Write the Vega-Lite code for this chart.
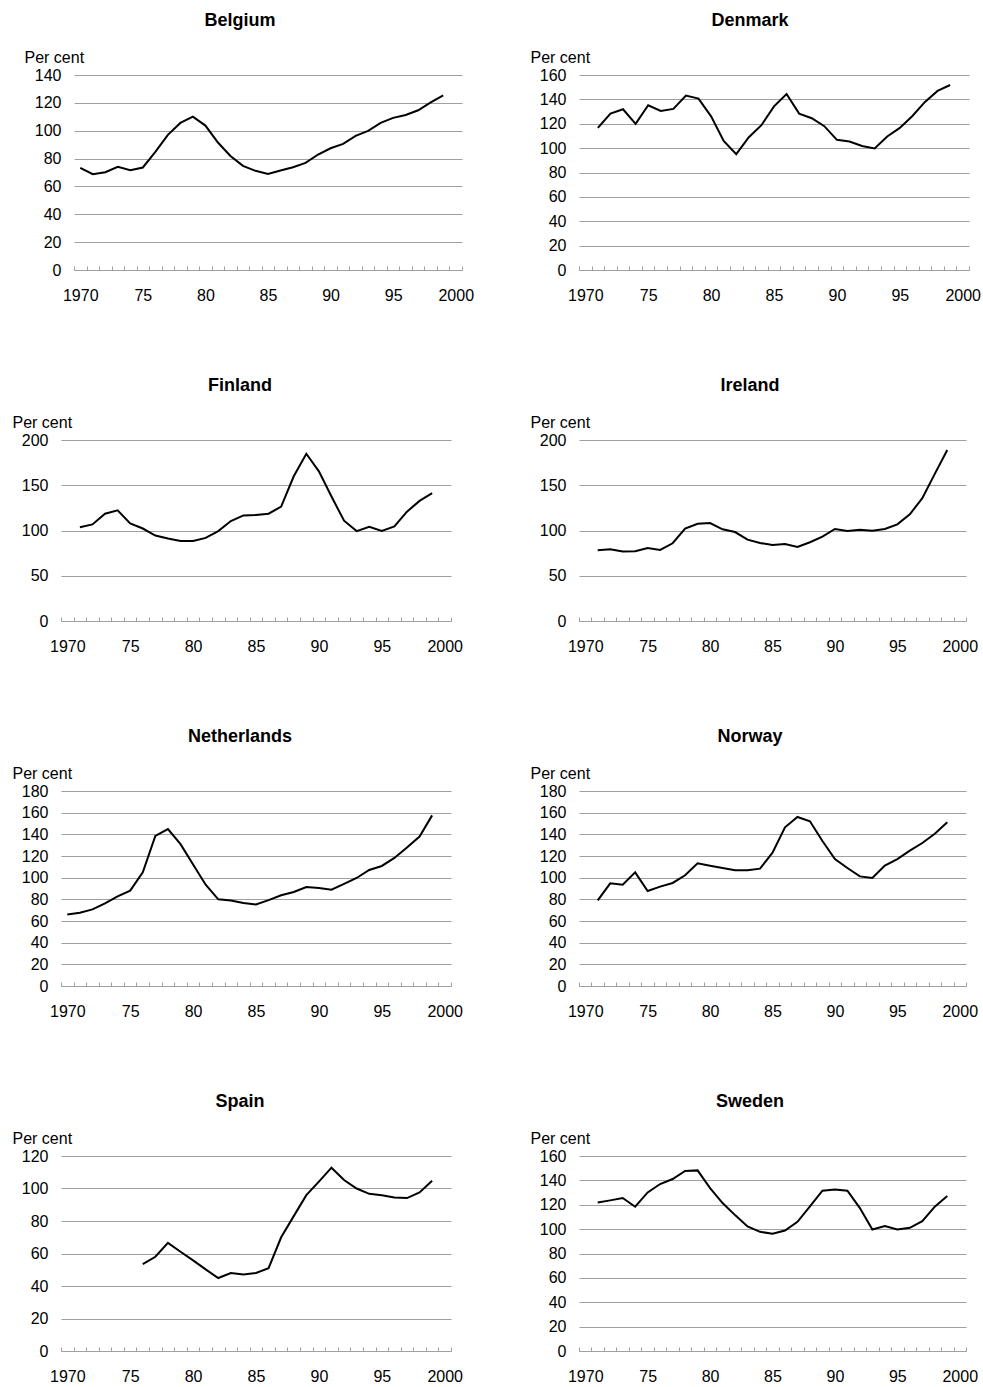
{
  "$schema": "https://vega.github.io/schema/vega-lite/v6.json",
  "padding": {"left": 12, "top": 12, "right": 0, "bottom": 0},
  "background": "white",
  "datasets": {
    "d": [
      {"country":"Belgium","year":1970,"value":73.3},{"country":"Belgium","year":1971,"value":68.8},{"country":"Belgium","year":1972,"value":70.2},{"country":"Belgium","year":1973,"value":74.1},{"country":"Belgium","year":1974,"value":71.7},{"country":"Belgium","year":1975,"value":73.6},{"country":"Belgium","year":1976,"value":84.8},{"country":"Belgium","year":1977,"value":97},{"country":"Belgium","year":1978,"value":105.6},{"country":"Belgium","year":1979,"value":110.1},{"country":"Belgium","year":1980,"value":103.7},{"country":"Belgium","year":1981,"value":91.5},{"country":"Belgium","year":1982,"value":81.9},{"country":"Belgium","year":1983,"value":74.8},{"country":"Belgium","year":1984,"value":71.2},{"country":"Belgium","year":1985,"value":69},{"country":"Belgium","year":1986,"value":71.4},{"country":"Belgium","year":1987,"value":73.8},{"country":"Belgium","year":1988,"value":76.9},{"country":"Belgium","year":1989,"value":82.9},{"country":"Belgium","year":1990,"value":87.4},{"country":"Belgium","year":1991,"value":90.5},{"country":"Belgium","year":1992,"value":96.3},{"country":"Belgium","year":1993,"value":99.9},{"country":"Belgium","year":1994,"value":105.6},{"country":"Belgium","year":1995,"value":109.2},{"country":"Belgium","year":1996,"value":111.3},{"country":"Belgium","year":1997,"value":114.7},{"country":"Belgium","year":1998,"value":120.4},{"country":"Belgium","year":1999,"value":125.4},
      {"country":"Denmark","year":1971,"value":116.6},{"country":"Denmark","year":1972,"value":128.3},{"country":"Denmark","year":1973,"value":131.9},{"country":"Denmark","year":1974,"value":119.9},{"country":"Denmark","year":1975,"value":135.2},{"country":"Denmark","year":1976,"value":130.5},{"country":"Denmark","year":1977,"value":132.2},{"country":"Denmark","year":1978,"value":143.1},{"country":"Denmark","year":1979,"value":140.6},{"country":"Denmark","year":1980,"value":126.1},{"country":"Denmark","year":1981,"value":105.9},{"country":"Denmark","year":1982,"value":95},{"country":"Denmark","year":1983,"value":108.9},{"country":"Denmark","year":1984,"value":118.8},{"country":"Denmark","year":1985,"value":134.3},{"country":"Denmark","year":1986,"value":144.4},{"country":"Denmark","year":1987,"value":128.3},{"country":"Denmark","year":1988,"value":124.5},{"country":"Denmark","year":1989,"value":118},{"country":"Denmark","year":1990,"value":106.8},{"country":"Denmark","year":1991,"value":105.4},{"country":"Denmark","year":1992,"value":101.8},{"country":"Denmark","year":1993,"value":99.7},{"country":"Denmark","year":1994,"value":109.5},{"country":"Denmark","year":1995,"value":116.6},{"country":"Denmark","year":1996,"value":126.4},{"country":"Denmark","year":1997,"value":137.9},{"country":"Denmark","year":1998,"value":146.9},{"country":"Denmark","year":1999,"value":151.8},
      {"country":"Finland","year":1971,"value":103.7},{"country":"Finland","year":1972,"value":106.7},{"country":"Finland","year":1973,"value":118.6},{"country":"Finland","year":1974,"value":122.3},{"country":"Finland","year":1975,"value":107.8},{"country":"Finland","year":1976,"value":102.2},{"country":"Finland","year":1977,"value":94.4},{"country":"Finland","year":1978,"value":91.1},{"country":"Finland","year":1979,"value":88.5},{"country":"Finland","year":1980,"value":88.5},{"country":"Finland","year":1981,"value":91.8},{"country":"Finland","year":1982,"value":99.3},{"country":"Finland","year":1983,"value":110.4},{"country":"Finland","year":1984,"value":116.7},{"country":"Finland","year":1985,"value":117.1},{"country":"Finland","year":1986,"value":118.6},{"country":"Finland","year":1987,"value":126.4},{"country":"Finland","year":1988,"value":159.9},{"country":"Finland","year":1989,"value":184.8},{"country":"Finland","year":1990,"value":165.4},{"country":"Finland","year":1991,"value":137.5},{"country":"Finland","year":1992,"value":110.8},{"country":"Finland","year":1993,"value":99.3},{"country":"Finland","year":1994,"value":104.1},{"country":"Finland","year":1995,"value":99.6},{"country":"Finland","year":1996,"value":104.5},{"country":"Finland","year":1997,"value":120.8},{"country":"Finland","year":1998,"value":132.7},{"country":"Finland","year":1999,"value":141.3},
      {"country":"Ireland","year":1971,"value":78.2},{"country":"Ireland","year":1972,"value":79.3},{"country":"Ireland","year":1973,"value":76.7},{"country":"Ireland","year":1974,"value":77.1},{"country":"Ireland","year":1975,"value":80.7},{"country":"Ireland","year":1976,"value":78.5},{"country":"Ireland","year":1977,"value":85.9},{"country":"Ireland","year":1978,"value":102},{"country":"Ireland","year":1979,"value":107.5},{"country":"Ireland","year":1980,"value":108.3},{"country":"Ireland","year":1981,"value":101.3},{"country":"Ireland","year":1982,"value":98.3},{"country":"Ireland","year":1983,"value":89.9},{"country":"Ireland","year":1984,"value":86.2},{"country":"Ireland","year":1985,"value":84},{"country":"Ireland","year":1986,"value":85.1},{"country":"Ireland","year":1987,"value":81.8},{"country":"Ireland","year":1988,"value":87},{"country":"Ireland","year":1989,"value":93.2},{"country":"Ireland","year":1990,"value":101.7},{"country":"Ireland","year":1991,"value":99.4},{"country":"Ireland","year":1992,"value":100.9},{"country":"Ireland","year":1993,"value":99.8},{"country":"Ireland","year":1994,"value":101.7},{"country":"Ireland","year":1995,"value":106.8},{"country":"Ireland","year":1996,"value":117.8},{"country":"Ireland","year":1997,"value":135.8},{"country":"Ireland","year":1998,"value":162.6},{"country":"Ireland","year":1999,"value":189},
      {"country":"Netherlands","year":1970,"value":66.1},{"country":"Netherlands","year":1971,"value":67.6},{"country":"Netherlands","year":1972,"value":70.7},{"country":"Netherlands","year":1973,"value":76.3},{"country":"Netherlands","year":1974,"value":82.7},{"country":"Netherlands","year":1975,"value":88},{"country":"Netherlands","year":1976,"value":105},{"country":"Netherlands","year":1977,"value":138.6},{"country":"Netherlands","year":1978,"value":144.8},{"country":"Netherlands","year":1979,"value":130.9},{"country":"Netherlands","year":1980,"value":112.1},{"country":"Netherlands","year":1981,"value":93.5},{"country":"Netherlands","year":1982,"value":80},{"country":"Netherlands","year":1983,"value":79},{"country":"Netherlands","year":1984,"value":76.6},{"country":"Netherlands","year":1985,"value":75.3},{"country":"Netherlands","year":1986,"value":79.3},{"country":"Netherlands","year":1987,"value":83.7},{"country":"Netherlands","year":1988,"value":86.8},{"country":"Netherlands","year":1989,"value":91.4},{"country":"Netherlands","year":1990,"value":90.5},{"country":"Netherlands","year":1991,"value":88.9},{"country":"Netherlands","year":1992,"value":94.2},{"country":"Netherlands","year":1993,"value":99.7},{"country":"Netherlands","year":1994,"value":107.1},{"country":"Netherlands","year":1995,"value":110.8},{"country":"Netherlands","year":1996,"value":118.2},{"country":"Netherlands","year":1997,"value":127.8},{"country":"Netherlands","year":1998,"value":138},{"country":"Netherlands","year":1999,"value":157.5},
      {"country":"Norway","year":1971,"value":79.1},{"country":"Norway","year":1972,"value":94.8},{"country":"Norway","year":1973,"value":93.5},{"country":"Norway","year":1974,"value":104.9},{"country":"Norway","year":1975,"value":87.7},{"country":"Norway","year":1976,"value":91.7},{"country":"Norway","year":1977,"value":95.1},{"country":"Norway","year":1978,"value":102.2},{"country":"Norway","year":1979,"value":113.2},{"country":"Norway","year":1980,"value":111.1},{"country":"Norway","year":1981,"value":108.9},{"country":"Norway","year":1982,"value":106.8},{"country":"Norway","year":1983,"value":106.8},{"country":"Norway","year":1984,"value":108.3},{"country":"Norway","year":1985,"value":123.1},{"country":"Norway","year":1986,"value":146.5},{"country":"Norway","year":1987,"value":156},{"country":"Norway","year":1988,"value":152},{"country":"Norway","year":1989,"value":133.8},{"country":"Norway","year":1990,"value":117.2},{"country":"Norway","year":1991,"value":108.9},{"country":"Norway","year":1992,"value":101.2},{"country":"Norway","year":1993,"value":99.7},{"country":"Norway","year":1994,"value":111.1},{"country":"Norway","year":1995,"value":117.2},{"country":"Norway","year":1996,"value":124.9},{"country":"Norway","year":1997,"value":132},{"country":"Norway","year":1998,"value":140.6},{"country":"Norway","year":1999,"value":151.1},
      {"country":"Spain","year":1976,"value":53.5},{"country":"Spain","year":1977,"value":58},{"country":"Spain","year":1978,"value":66.5},{"country":"Spain","year":1979,"value":61.1},{"country":"Spain","year":1980,"value":55.8},{"country":"Spain","year":1981,"value":50.2},{"country":"Spain","year":1982,"value":44.9},{"country":"Spain","year":1983,"value":48},{"country":"Spain","year":1984,"value":47.1},{"country":"Spain","year":1985,"value":48},{"country":"Spain","year":1986,"value":51},{"country":"Spain","year":1987,"value":70},{"country":"Spain","year":1988,"value":83},{"country":"Spain","year":1989,"value":95.9},{"country":"Spain","year":1990,"value":104.2},{"country":"Spain","year":1991,"value":112.8},{"country":"Spain","year":1992,"value":105.2},{"country":"Spain","year":1993,"value":100},{"country":"Spain","year":1994,"value":96.7},{"country":"Spain","year":1995,"value":95.9},{"country":"Spain","year":1996,"value":94.5},{"country":"Spain","year":1997,"value":94.1},{"country":"Spain","year":1998,"value":97.6},{"country":"Spain","year":1999,"value":104.8},
      {"country":"Sweden","year":1971,"value":121.9},{"country":"Sweden","year":1972,"value":123.6},{"country":"Sweden","year":1973,"value":125.5},{"country":"Sweden","year":1974,"value":118.4},{"country":"Sweden","year":1975,"value":130.1},{"country":"Sweden","year":1976,"value":137},{"country":"Sweden","year":1977,"value":141.1},{"country":"Sweden","year":1978,"value":147.7},{"country":"Sweden","year":1979,"value":148.2},{"country":"Sweden","year":1980,"value":133.7},{"country":"Sweden","year":1981,"value":121.4},{"country":"Sweden","year":1982,"value":111.5},{"country":"Sweden","year":1983,"value":102.2},{"country":"Sweden","year":1984,"value":97.8},{"country":"Sweden","year":1985,"value":96.2},{"country":"Sweden","year":1986,"value":98.9},{"country":"Sweden","year":1987,"value":106},{"country":"Sweden","year":1988,"value":118.6},{"country":"Sweden","year":1989,"value":131.5},{"country":"Sweden","year":1990,"value":132.6},{"country":"Sweden","year":1991,"value":131.5},{"country":"Sweden","year":1992,"value":117.3},{"country":"Sweden","year":1993,"value":99.7},{"country":"Sweden","year":1994,"value":102.5},{"country":"Sweden","year":1995,"value":99.7},{"country":"Sweden","year":1996,"value":101.1},{"country":"Sweden","year":1997,"value":106.6},{"country":"Sweden","year":1998,"value":118.4},{"country":"Sweden","year":1999,"value":127.1}
    ]
  },
  "bounds": "flush",
  "columns": 2,
  "spacing": {"row": 170, "column": 117},
  "concat": [
    {
      "width": 401, "height": 195,
      "title": {"text": "Belgium", "dx": -21.5},
      "data": {"name": "d"},
      "transform": [{"filter": "datum.country === 'Belgium'"}],
      "mark": {"type": "line", "color": "black", "strokeWidth": 2},
      "encoding": {
        "x": {"field": "year", "type": "quantitative", "scale": {"domain": [1969.5, 2000.5], "range": [13, 401], "nice": false, "zero": false},
          "axis": {"values": [1969.5,1970,1970.5,1971.5,1972.5,1973.5,1974.5,1975,1975.5,1976.5,1977.5,1978.5,1979.5,1980,1980.5,1981.5,1982.5,1983.5,1984.5,1985,1985.5,1986.5,1987.5,1988.5,1989.5,1990,1990.5,1991.5,1992.5,1993.5,1994.5,1995,1995.5,1996.5,1997.5,1998.5,1999.5,2000,2000.5],
            "labelExpr": "datum.value == 1970 || datum.value == 2000 ? format(datum.value, 'd') : (datum.value % 5 == 0 ? format(datum.value % 100, 'd') : '')",
            "tickOpacity": {"condition": {"test": "datum.value % 1 != 0", "value": 1}, "value": 0}}},
        "y": {"field": "value", "type": "quantitative", "scale": {"domain": [0, 140], "nice": false},
          "axis": {"values": [0,20,40,60,80,100,120,140], "title": "Per cent", "offset": -13, "titleX": -50}}
      }
    },
    {
      "width": 390, "height": 195,
      "title": {"text": "Denmark", "dx": -24},
      "data": {"name": "d"},
      "transform": [{"filter": "datum.country === 'Denmark'"}],
      "mark": {"type": "line", "color": "black", "strokeWidth": 2},
      "encoding": {
        "x": {"field": "year", "type": "quantitative", "scale": {"domain": [1969.5, 2000.5], "nice": false, "zero": false},
          "axis": {"values": [1969.5,1970,1970.5,1971.5,1972.5,1973.5,1974.5,1975,1975.5,1976.5,1977.5,1978.5,1979.5,1980,1980.5,1981.5,1982.5,1983.5,1984.5,1985,1985.5,1986.5,1987.5,1988.5,1989.5,1990,1990.5,1991.5,1992.5,1993.5,1994.5,1995,1995.5,1996.5,1997.5,1998.5,1999.5,2000,2000.5],
            "labelExpr": "datum.value == 1970 || datum.value == 2000 ? format(datum.value, 'd') : (datum.value % 5 == 0 ? format(datum.value % 100, 'd') : '')",
            "tickOpacity": {"condition": {"test": "datum.value % 1 != 0", "value": 1}, "value": 0}}},
        "y": {"field": "value", "type": "quantitative", "scale": {"domain": [0, 160], "nice": false},
          "axis": {"values": [0,20,40,60,80,100,120,140,160], "title": "Per cent"}}
      }
    },
    {
      "width": 390, "height": 181,
      "title": {"text": "Finland", "dx": -16},
      "data": {"name": "d"},
      "transform": [{"filter": "datum.country === 'Finland'"}],
      "mark": {"type": "line", "color": "black", "strokeWidth": 2},
      "encoding": {
        "x": {"field": "year", "type": "quantitative", "scale": {"domain": [1969.5, 2000.5], "nice": false, "zero": false},
          "axis": {"values": [1969.5,1970,1970.5,1971.5,1972.5,1973.5,1974.5,1975,1975.5,1976.5,1977.5,1978.5,1979.5,1980,1980.5,1981.5,1982.5,1983.5,1984.5,1985,1985.5,1986.5,1987.5,1988.5,1989.5,1990,1990.5,1991.5,1992.5,1993.5,1994.5,1995,1995.5,1996.5,1997.5,1998.5,1999.5,2000,2000.5],
            "labelExpr": "datum.value == 1970 || datum.value == 2000 ? format(datum.value, 'd') : (datum.value % 5 == 0 ? format(datum.value % 100, 'd') : '')",
            "tickOpacity": {"condition": {"test": "datum.value % 1 != 0", "value": 1}, "value": 0}}},
        "y": {"field": "value", "type": "quantitative", "scale": {"domain": [0, 200], "nice": false},
          "axis": {"values": [0,50,100,150,200], "title": "Per cent"}}
      }
    },
    {
      "width": 387, "height": 181,
      "title": {"text": "Ireland", "dx": -22.5},
      "data": {"name": "d"},
      "transform": [{"filter": "datum.country === 'Ireland'"}],
      "mark": {"type": "line", "color": "black", "strokeWidth": 2},
      "encoding": {
        "x": {"field": "year", "type": "quantitative", "scale": {"domain": [1969.5, 2000.5], "nice": false, "zero": false},
          "axis": {"values": [1969.5,1970,1970.5,1971.5,1972.5,1973.5,1974.5,1975,1975.5,1976.5,1977.5,1978.5,1979.5,1980,1980.5,1981.5,1982.5,1983.5,1984.5,1985,1985.5,1986.5,1987.5,1988.5,1989.5,1990,1990.5,1991.5,1992.5,1993.5,1994.5,1995,1995.5,1996.5,1997.5,1998.5,1999.5,2000,2000.5],
            "labelExpr": "datum.value == 1970 || datum.value == 2000 ? format(datum.value, 'd') : (datum.value % 5 == 0 ? format(datum.value % 100, 'd') : '')",
            "tickOpacity": {"condition": {"test": "datum.value % 1 != 0", "value": 1}, "value": 0}}},
        "y": {"field": "value", "type": "quantitative", "scale": {"domain": [0, 200], "nice": false},
          "axis": {"values": [0,50,100,150,200], "title": "Per cent"}}
      }
    },
    {
      "width": 390, "height": 195,
      "title": {"text": "Netherlands", "dx": -16},
      "data": {"name": "d"},
      "transform": [{"filter": "datum.country === 'Netherlands'"}],
      "mark": {"type": "line", "color": "black", "strokeWidth": 2},
      "encoding": {
        "x": {"field": "year", "type": "quantitative", "scale": {"domain": [1969.5, 2000.5], "nice": false, "zero": false},
          "axis": {"values": [1969.5,1970,1970.5,1971.5,1972.5,1973.5,1974.5,1975,1975.5,1976.5,1977.5,1978.5,1979.5,1980,1980.5,1981.5,1982.5,1983.5,1984.5,1985,1985.5,1986.5,1987.5,1988.5,1989.5,1990,1990.5,1991.5,1992.5,1993.5,1994.5,1995,1995.5,1996.5,1997.5,1998.5,1999.5,2000,2000.5],
            "labelExpr": "datum.value == 1970 || datum.value == 2000 ? format(datum.value, 'd') : (datum.value % 5 == 0 ? format(datum.value % 100, 'd') : '')",
            "tickOpacity": {"condition": {"test": "datum.value % 1 != 0", "value": 1}, "value": 0}}},
        "y": {"field": "value", "type": "quantitative", "scale": {"domain": [0, 180], "nice": false},
          "axis": {"values": [0,20,40,60,80,100,120,140,160,180], "title": "Per cent"}}
      }
    },
    {
      "width": 387, "height": 195,
      "title": {"text": "Norway", "dx": -22.5},
      "data": {"name": "d"},
      "transform": [{"filter": "datum.country === 'Norway'"}],
      "mark": {"type": "line", "color": "black", "strokeWidth": 2},
      "encoding": {
        "x": {"field": "year", "type": "quantitative", "scale": {"domain": [1969.5, 2000.5], "nice": false, "zero": false},
          "axis": {"values": [1969.5,1970,1970.5,1971.5,1972.5,1973.5,1974.5,1975,1975.5,1976.5,1977.5,1978.5,1979.5,1980,1980.5,1981.5,1982.5,1983.5,1984.5,1985,1985.5,1986.5,1987.5,1988.5,1989.5,1990,1990.5,1991.5,1992.5,1993.5,1994.5,1995,1995.5,1996.5,1997.5,1998.5,1999.5,2000,2000.5],
            "labelExpr": "datum.value == 1970 || datum.value == 2000 ? format(datum.value, 'd') : (datum.value % 5 == 0 ? format(datum.value % 100, 'd') : '')",
            "tickOpacity": {"condition": {"test": "datum.value % 1 != 0", "value": 1}, "value": 0}}},
        "y": {"field": "value", "type": "quantitative", "scale": {"domain": [0, 180], "nice": false},
          "axis": {"values": [0,20,40,60,80,100,120,140,160,180], "title": "Per cent"}}
      }
    },
    {
      "width": 390, "height": 195,
      "title": {"text": "Spain", "dx": -16},
      "data": {"name": "d"},
      "transform": [{"filter": "datum.country === 'Spain'"}],
      "mark": {"type": "line", "color": "black", "strokeWidth": 2},
      "encoding": {
        "x": {"field": "year", "type": "quantitative", "scale": {"domain": [1969.5, 2000.5], "nice": false, "zero": false},
          "axis": {"values": [1969.5,1970,1970.5,1971.5,1972.5,1973.5,1974.5,1975,1975.5,1976.5,1977.5,1978.5,1979.5,1980,1980.5,1981.5,1982.5,1983.5,1984.5,1985,1985.5,1986.5,1987.5,1988.5,1989.5,1990,1990.5,1991.5,1992.5,1993.5,1994.5,1995,1995.5,1996.5,1997.5,1998.5,1999.5,2000,2000.5],
            "labelExpr": "datum.value == 1970 || datum.value == 2000 ? format(datum.value, 'd') : (datum.value % 5 == 0 ? format(datum.value % 100, 'd') : '')",
            "tickOpacity": {"condition": {"test": "datum.value % 1 != 0", "value": 1}, "value": 0}}},
        "y": {"field": "value", "type": "quantitative", "scale": {"domain": [0, 120], "nice": false},
          "axis": {"values": [0,20,40,60,80,100,120], "title": "Per cent"}}
      }
    },
    {
      "width": 387, "height": 195,
      "title": {"text": "Sweden", "dx": -22.5},
      "data": {"name": "d"},
      "transform": [{"filter": "datum.country === 'Sweden'"}],
      "mark": {"type": "line", "color": "black", "strokeWidth": 2},
      "encoding": {
        "x": {"field": "year", "type": "quantitative", "scale": {"domain": [1969.5, 2000.5], "nice": false, "zero": false},
          "axis": {"values": [1969.5,1970,1970.5,1971.5,1972.5,1973.5,1974.5,1975,1975.5,1976.5,1977.5,1978.5,1979.5,1980,1980.5,1981.5,1982.5,1983.5,1984.5,1985,1985.5,1986.5,1987.5,1988.5,1989.5,1990,1990.5,1991.5,1992.5,1993.5,1994.5,1995,1995.5,1996.5,1997.5,1998.5,1999.5,2000,2000.5],
            "labelExpr": "datum.value == 1970 || datum.value == 2000 ? format(datum.value, 'd') : (datum.value % 5 == 0 ? format(datum.value % 100, 'd') : '')",
            "tickOpacity": {"condition": {"test": "datum.value % 1 != 0", "value": 1}, "value": 0}}},
        "y": {"field": "value", "type": "quantitative", "scale": {"domain": [0, 160], "nice": false},
          "axis": {"values": [0,20,40,60,80,100,120,140,160], "title": "Per cent"}}
      }
    }
  ],
  "config": {
    "font": "Liberation Sans",
    "view": {"stroke": null},
    "title": {"font": "Liberation Sans", "fontSize": 18, "fontWeight": "bold", "color": "#000000", "anchor": "middle", "frame": "group", "offset": 19},
    "axis": {"labelFont": "Liberation Sans", "labelFontSize": 16, "labelColor": "#000000", "titleFont": "Liberation Sans", "titleFontSize": 16, "titleFontWeight": "normal", "titleColor": "#000000"},
    "axisX": {"grid": false, "domain": true, "domainColor": "#a0a0a0", "domainWidth": 1, "ticks": true, "tickColor": "#a0a0a0", "tickWidth": 1, "tickSize": -4, "labelPadding": 21, "labelFlush": false, "labelOverlap": false, "labelBound": false, "title": null},
    "axisY": {"grid": true, "gridColor": "#a0a0a0", "gridWidth": 1, "domain": false, "ticks": false, "labelPadding": 13, "labelOverlap": false, "labelBaseline": "middle", "titleAngle": 0, "titleAlign": "left", "titleBaseline": "alphabetic", "titleX": -49, "titleY": -13}
  }
}
